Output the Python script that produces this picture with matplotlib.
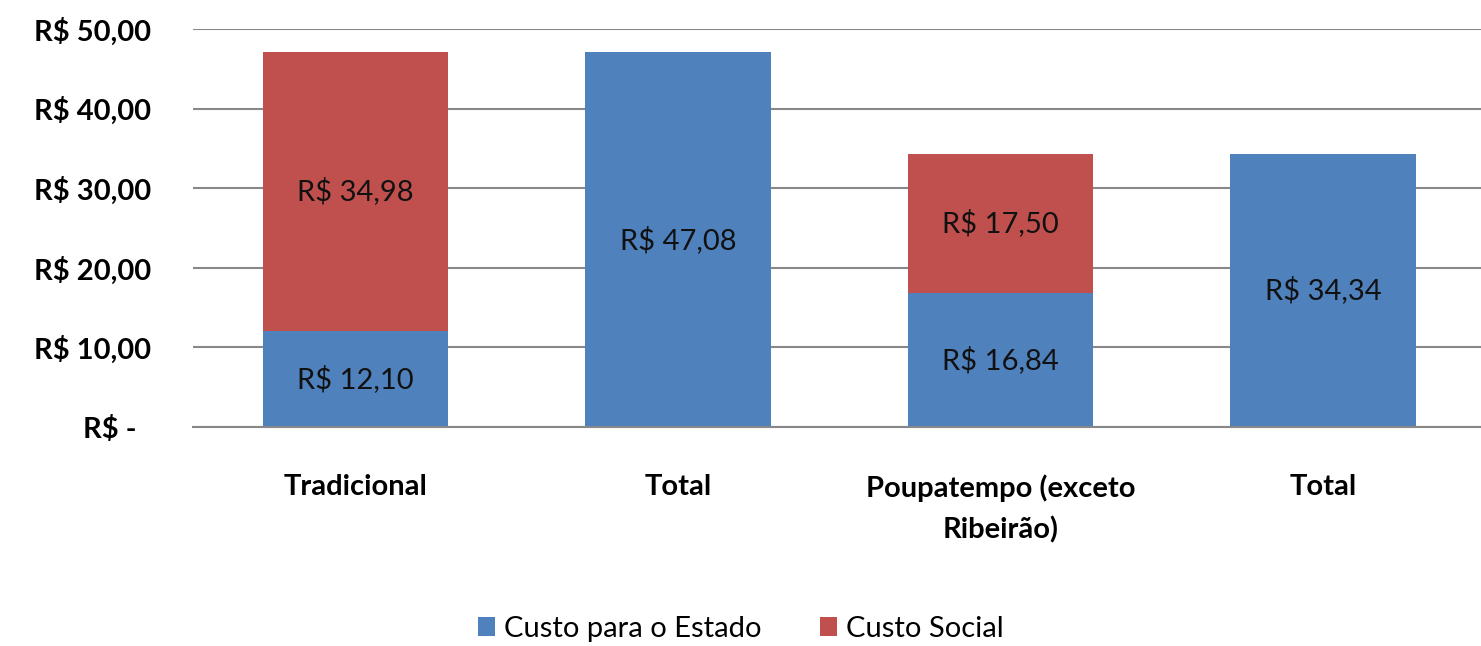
import numpy as np
import matplotlib.pyplot as plt

plt.rcParams['font.family'] = ['Lato', 'DejaVu Sans']

categories = ['Tradicional', 'Total', 'Poupatempo (exceto\nRibeirão)', 'Total']
custo_estado = [12.10, 47.08, 16.84, 34.34]
custo_social = [34.98, 0, 17.50, 0]
yticks = [0, 10, 20, 30, 40, 50]
ytick_labels = ['R$ -  ', 'R$ 10,00', 'R$ 20,00', 'R$ 30,00', 'R$ 40,00', 'R$ 50,00']

blue = '#4F81BD'
red = '#C0504D'

fig = plt.figure(figsize=(14.81, 6.46), dpi=100)
ax = fig.add_axes([0.130, 0.339, 0.870, 0.616])

x = np.arange(len(categories))
width = 0.575
b1 = ax.bar(x, custo_estado, width, color=blue, label='Custo para o Estado', zorder=2)
b2 = ax.bar(x, custo_social, width, bottom=custo_estado, color=red, label='Custo Social', zorder=2)

def fmt(v):
    return 'R$ ' + ('%.2f' % v).replace('.', ',')

for rect, v in zip(b1, custo_estado):
    ax.text(rect.get_x() + rect.get_width() / 2, v / 2, fmt(v),
            ha='center', va='center', fontsize=21, color='#111111')
for rect, v, base in zip(b2, custo_social, custo_estado):
    if v > 0:
        ax.text(rect.get_x() + rect.get_width() / 2, base + v / 2, fmt(v),
                ha='center', va='center', fontsize=21, color='#111111')

ax.set_ylim(0, 50)
ax.set_xlim(-0.505, 3.49)
ax.set_yticks(yticks)
ax.set_yticklabels(ytick_labels, fontsize=21, fontweight='bold')
ax.set_xticks(x)
ax.set_xticklabels(categories, fontsize=21, fontweight='bold', linespacing=1.65)
ax.tick_params(axis='y', length=0, pad=30)
ax.tick_params(axis='x', length=0, pad=34)
ax.yaxis.grid(True, color='#888888', linewidth=1.5, zorder=0)
for s in ['top', 'right', 'left']:
    ax.spines[s].set_visible(False)
ax.spines['bottom'].set_color('#888888')
ax.spines['bottom'].set_linewidth(1.5)

fig.legend(handles=[b1, b2], loc='center', bbox_to_anchor=(0.5, 0.027), ncol=2,
           frameon=False, fontsize=21, handlelength=0.6, handleheight=0.6,
           handletextpad=0.3, columnspacing=2.0)

fig.savefig('out.png', dpi=100)
